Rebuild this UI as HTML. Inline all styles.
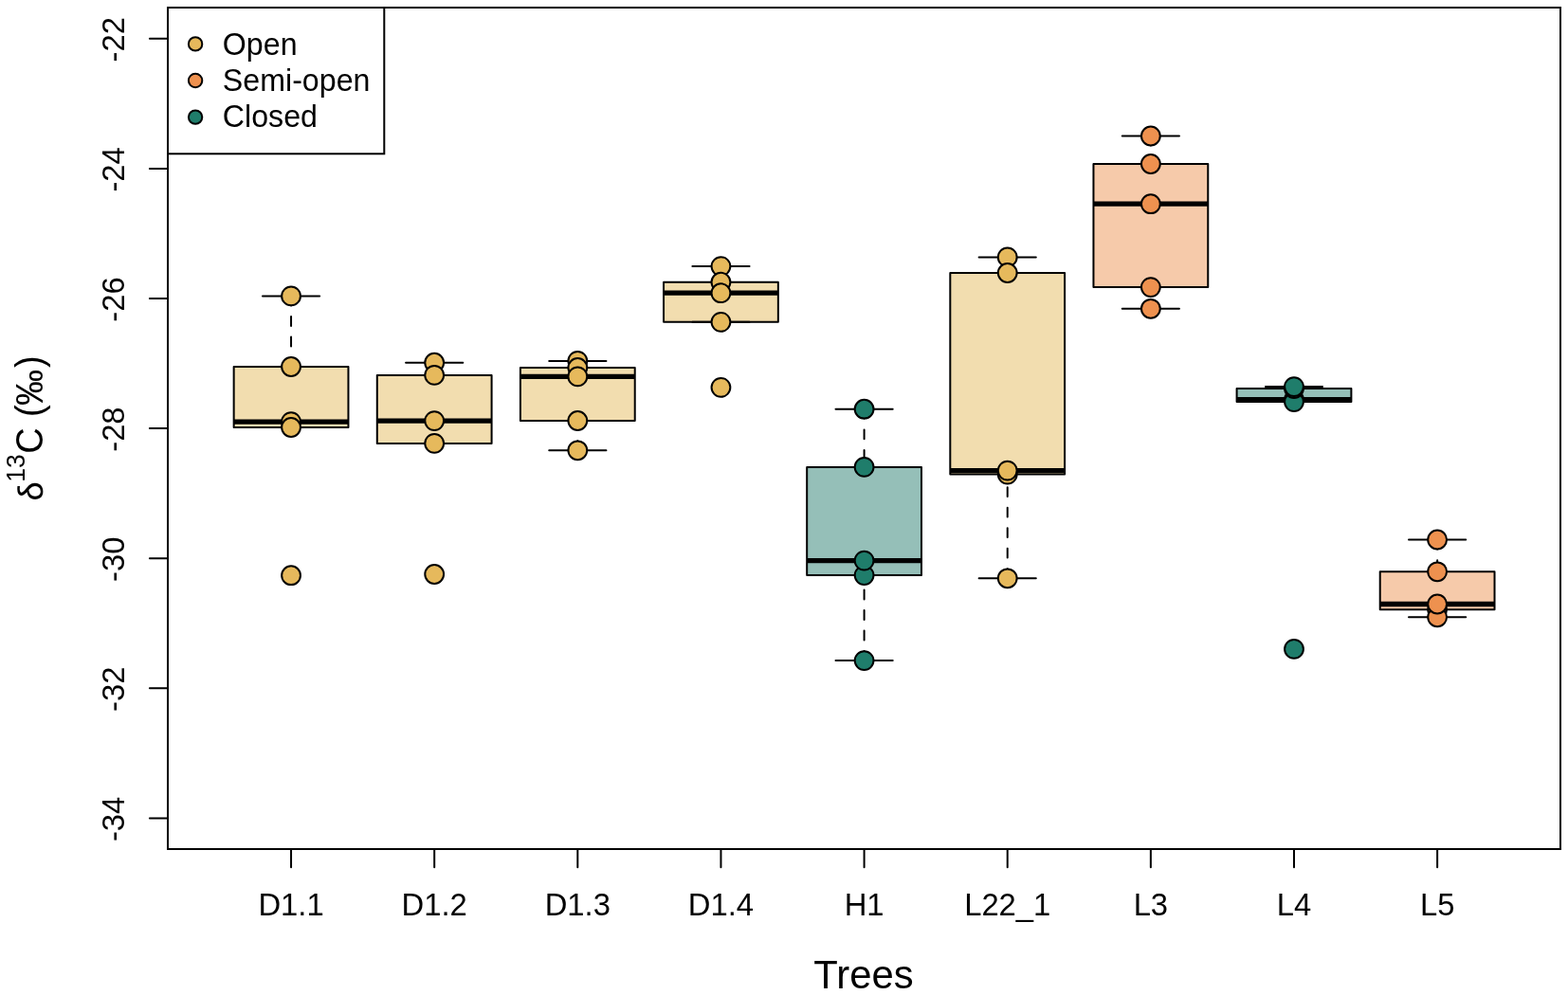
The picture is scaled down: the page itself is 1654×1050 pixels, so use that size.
<!DOCTYPE html>
<html><head><meta charset="utf-8"><title>d13C boxplot</title>
<style>
html,body{margin:0;padding:0;background:#fff;}
svg{display:block;}
text{font-family:"Liberation Sans",Arial,Helvetica,sans-serif;fill:#000;}
.ax{font-size:32.8px;}
.lg{font-size:32.2px;}
.tt{font-size:41.8px;}
.yl{font-size:38px;}
.sup{font-size:26.4px;}
.dl{font-family:"WenQuanYi Zen Hei","Liberation Sans",sans-serif;font-size:34.5px;}
</style></head>
<body>
<svg width="1654" height="1050" viewBox="0 0 1654 1050">
<rect width="1654" height="1050" fill="#fff"/>
<rect x="246.65" y="387" width="120.8" height="64" fill="#F2DDAF"/>
<line x1="246.65" y1="445.1" x2="367.45" y2="445.1" stroke="#000" stroke-width="5.3"/>
<line x1="307.05" y1="312.6" x2="307.05" y2="387" stroke="#000" stroke-width="2.0" stroke-dasharray="9.8 11.7" stroke-linecap="round"/>
<line x1="276.95" y1="312.4" x2="337.15" y2="312.4" stroke="#000" stroke-width="2.0" stroke-linecap="round"/>
<line x1="276.95" y1="451" x2="337.15" y2="451" stroke="#000" stroke-width="2.0" stroke-linecap="round"/>
<rect x="246.65" y="387" width="120.8" height="64" fill="none" stroke="#000" stroke-width="2.0" stroke-linejoin="round"/>
<rect x="397.79" y="395.9" width="120.8" height="72" fill="#F2DDAF"/>
<line x1="397.79" y1="444.1" x2="518.59" y2="444.1" stroke="#000" stroke-width="5.3"/>
<line x1="458.19" y1="382.9" x2="458.19" y2="395.9" stroke="#000" stroke-width="2.0" stroke-dasharray="9.8 11.7" stroke-linecap="round"/>
<line x1="428.08" y1="382.7" x2="488.29" y2="382.7" stroke="#000" stroke-width="2.0" stroke-linecap="round"/>
<line x1="428.08" y1="467.9" x2="488.29" y2="467.9" stroke="#000" stroke-width="2.0" stroke-linecap="round"/>
<rect x="397.79" y="395.9" width="120.8" height="72" fill="none" stroke="#000" stroke-width="2.0" stroke-linejoin="round"/>
<rect x="548.92" y="388" width="120.8" height="56" fill="#F2DDAF"/>
<line x1="548.92" y1="397.4" x2="669.72" y2="397.4" stroke="#000" stroke-width="5.3"/>
<line x1="609.32" y1="381.1" x2="609.32" y2="388" stroke="#000" stroke-width="2.0" stroke-dasharray="9.8 11.7" stroke-linecap="round"/>
<line x1="609.32" y1="475.1" x2="609.32" y2="444" stroke="#000" stroke-width="2.0" stroke-dasharray="9.8 11.7" stroke-linecap="round"/>
<line x1="579.22" y1="380.9" x2="639.42" y2="380.9" stroke="#000" stroke-width="2.0" stroke-linecap="round"/>
<line x1="579.22" y1="475.3" x2="639.42" y2="475.3" stroke="#000" stroke-width="2.0" stroke-linecap="round"/>
<rect x="548.92" y="388" width="120.8" height="56" fill="none" stroke="#000" stroke-width="2.0" stroke-linejoin="round"/>
<rect x="700.05" y="297.7" width="120.8" height="42.15" fill="#F2DDAF"/>
<line x1="700.05" y1="309.2" x2="820.85" y2="309.2" stroke="#000" stroke-width="5.3"/>
<line x1="760.45" y1="281.3" x2="760.45" y2="297.7" stroke="#000" stroke-width="2.0" stroke-dasharray="9.8 11.7" stroke-linecap="round"/>
<line x1="730.35" y1="281.1" x2="790.55" y2="281.1" stroke="#000" stroke-width="2.0" stroke-linecap="round"/>
<line x1="730.35" y1="339.85" x2="790.55" y2="339.85" stroke="#000" stroke-width="2.0" stroke-linecap="round"/>
<rect x="700.05" y="297.7" width="120.8" height="42.15" fill="none" stroke="#000" stroke-width="2.0" stroke-linejoin="round"/>
<rect x="851.19" y="492.9" width="120.8" height="114.2" fill="#95BFB8"/>
<line x1="851.19" y1="591.6" x2="971.99" y2="591.6" stroke="#000" stroke-width="5.3"/>
<line x1="911.59" y1="431.9" x2="911.59" y2="492.9" stroke="#000" stroke-width="2.0" stroke-dasharray="9.8 11.7" stroke-linecap="round"/>
<line x1="911.59" y1="696.9" x2="911.59" y2="607.1" stroke="#000" stroke-width="2.0" stroke-dasharray="9.8 11.7" stroke-linecap="round"/>
<line x1="881.49" y1="431.7" x2="941.69" y2="431.7" stroke="#000" stroke-width="2.0" stroke-linecap="round"/>
<line x1="881.49" y1="697.1" x2="941.69" y2="697.1" stroke="#000" stroke-width="2.0" stroke-linecap="round"/>
<rect x="851.19" y="492.9" width="120.8" height="114.2" fill="none" stroke="#000" stroke-width="2.0" stroke-linejoin="round"/>
<rect x="1002.32" y="288" width="120.8" height="212.6" fill="#F2DDAF"/>
<line x1="1002.32" y1="496.6" x2="1123.12" y2="496.6" stroke="#000" stroke-width="5.3"/>
<line x1="1062.72" y1="271.6" x2="1062.72" y2="288" stroke="#000" stroke-width="2.0" stroke-dasharray="9.8 11.7" stroke-linecap="round"/>
<line x1="1062.72" y1="610.1" x2="1062.72" y2="500.6" stroke="#000" stroke-width="2.0" stroke-dasharray="9.8 11.7" stroke-linecap="round"/>
<line x1="1032.62" y1="271.4" x2="1092.82" y2="271.4" stroke="#000" stroke-width="2.0" stroke-linecap="round"/>
<line x1="1032.62" y1="610.3" x2="1092.82" y2="610.3" stroke="#000" stroke-width="2.0" stroke-linecap="round"/>
<rect x="1002.32" y="288" width="120.8" height="212.6" fill="none" stroke="#000" stroke-width="2.0" stroke-linejoin="round"/>
<rect x="1153.46" y="173" width="120.8" height="130.1" fill="#F6CAAA"/>
<line x1="1153.46" y1="215.2" x2="1274.26" y2="215.2" stroke="#000" stroke-width="5.3"/>
<line x1="1213.86" y1="143.7" x2="1213.86" y2="173" stroke="#000" stroke-width="2.0" stroke-dasharray="9.8 11.7" stroke-linecap="round"/>
<line x1="1213.86" y1="325.6" x2="1213.86" y2="303.1" stroke="#000" stroke-width="2.0" stroke-dasharray="9.8 11.7" stroke-linecap="round"/>
<line x1="1183.76" y1="143.5" x2="1243.96" y2="143.5" stroke="#000" stroke-width="2.0" stroke-linecap="round"/>
<line x1="1183.76" y1="325.8" x2="1243.96" y2="325.8" stroke="#000" stroke-width="2.0" stroke-linecap="round"/>
<rect x="1153.46" y="173" width="120.8" height="130.1" fill="none" stroke="#000" stroke-width="2.0" stroke-linejoin="round"/>
<rect x="1304.59" y="410" width="120.8" height="14.1" fill="#95BFB8"/>
<line x1="1304.59" y1="421.75" x2="1425.39" y2="421.75" stroke="#000" stroke-width="5.3"/>
<line x1="1364.99" y1="408.3" x2="1364.99" y2="410" stroke="#000" stroke-width="2.0" stroke-dasharray="9.8 11.7" stroke-linecap="round"/>
<line x1="1334.89" y1="408.1" x2="1395.09" y2="408.1" stroke="#000" stroke-width="2.0" stroke-linecap="round"/>
<line x1="1334.89" y1="424.1" x2="1395.09" y2="424.1" stroke="#000" stroke-width="2.0" stroke-linecap="round"/>
<rect x="1304.59" y="410" width="120.8" height="14.1" fill="none" stroke="#000" stroke-width="2.0" stroke-linejoin="round"/>
<rect x="1455.73" y="603.3" width="120.8" height="39.9" fill="#F6CAAA"/>
<line x1="1455.73" y1="637.5" x2="1576.53" y2="637.5" stroke="#000" stroke-width="5.3"/>
<line x1="1516.13" y1="569.7" x2="1516.13" y2="603.3" stroke="#000" stroke-width="2.0" stroke-dasharray="9.8 11.7" stroke-linecap="round"/>
<line x1="1516.13" y1="651.1" x2="1516.13" y2="643.2" stroke="#000" stroke-width="2.0" stroke-dasharray="9.8 11.7" stroke-linecap="round"/>
<line x1="1486.03" y1="569.5" x2="1546.23" y2="569.5" stroke="#000" stroke-width="2.0" stroke-linecap="round"/>
<line x1="1486.03" y1="651.3" x2="1546.23" y2="651.3" stroke="#000" stroke-width="2.0" stroke-linecap="round"/>
<rect x="1455.73" y="603.3" width="120.8" height="39.9" fill="none" stroke="#000" stroke-width="2.0" stroke-linejoin="round"/>
<circle cx="307.05" cy="607.2" r="9.9" fill="#E6B95C" stroke="#000" stroke-width="2.0"/>
<circle cx="307.05" cy="312.4" r="9.9" fill="#E6B95C" stroke="#000" stroke-width="2.0"/>
<circle cx="307.05" cy="387" r="9.9" fill="#E6B95C" stroke="#000" stroke-width="2.0"/>
<circle cx="307.05" cy="445.1" r="9.9" fill="#E6B95C" stroke="#000" stroke-width="2.0"/>
<circle cx="307.05" cy="451" r="9.9" fill="#E6B95C" stroke="#000" stroke-width="2.0"/>
<circle cx="458.19" cy="606" r="9.9" fill="#E6B95C" stroke="#000" stroke-width="2.0"/>
<circle cx="458.19" cy="382.7" r="9.9" fill="#E6B95C" stroke="#000" stroke-width="2.0"/>
<circle cx="458.19" cy="395.9" r="9.9" fill="#E6B95C" stroke="#000" stroke-width="2.0"/>
<circle cx="458.19" cy="444.1" r="9.9" fill="#E6B95C" stroke="#000" stroke-width="2.0"/>
<circle cx="458.19" cy="467.9" r="9.9" fill="#E6B95C" stroke="#000" stroke-width="2.0"/>
<circle cx="609.32" cy="475.3" r="9.9" fill="#E6B95C" stroke="#000" stroke-width="2.0"/>
<circle cx="609.32" cy="444" r="9.9" fill="#E6B95C" stroke="#000" stroke-width="2.0"/>
<circle cx="609.32" cy="380.9" r="9.9" fill="#E6B95C" stroke="#000" stroke-width="2.0"/>
<circle cx="609.32" cy="388" r="9.9" fill="#E6B95C" stroke="#000" stroke-width="2.0"/>
<circle cx="609.32" cy="397.4" r="9.9" fill="#E6B95C" stroke="#000" stroke-width="2.0"/>
<circle cx="760.45" cy="408.85" r="9.9" fill="#E6B95C" stroke="#000" stroke-width="2.0"/>
<circle cx="760.45" cy="339.85" r="9.9" fill="#E6B95C" stroke="#000" stroke-width="2.0"/>
<circle cx="760.45" cy="281.1" r="9.9" fill="#E6B95C" stroke="#000" stroke-width="2.0"/>
<circle cx="760.45" cy="297.7" r="9.9" fill="#E6B95C" stroke="#000" stroke-width="2.0"/>
<circle cx="760.45" cy="309.2" r="9.9" fill="#E6B95C" stroke="#000" stroke-width="2.0"/>
<circle cx="911.59" cy="431.7" r="9.9" fill="#1F7D6B" stroke="#000" stroke-width="2.0"/>
<circle cx="911.59" cy="492.9" r="9.9" fill="#1F7D6B" stroke="#000" stroke-width="2.0"/>
<circle cx="911.59" cy="697.1" r="9.9" fill="#1F7D6B" stroke="#000" stroke-width="2.0"/>
<circle cx="911.59" cy="607.1" r="9.9" fill="#1F7D6B" stroke="#000" stroke-width="2.0"/>
<circle cx="911.59" cy="591.6" r="9.9" fill="#1F7D6B" stroke="#000" stroke-width="2.0"/>
<circle cx="1062.72" cy="610.3" r="9.9" fill="#E6B95C" stroke="#000" stroke-width="2.0"/>
<circle cx="1062.72" cy="271.4" r="9.9" fill="#E6B95C" stroke="#000" stroke-width="2.0"/>
<circle cx="1062.72" cy="288" r="9.9" fill="#E6B95C" stroke="#000" stroke-width="2.0"/>
<circle cx="1062.72" cy="500.6" r="9.9" fill="#E6B95C" stroke="#000" stroke-width="2.0"/>
<circle cx="1062.72" cy="496.6" r="9.9" fill="#E6B95C" stroke="#000" stroke-width="2.0"/>
<circle cx="1213.86" cy="143.5" r="9.9" fill="#EE914F" stroke="#000" stroke-width="2.0"/>
<circle cx="1213.86" cy="173" r="9.9" fill="#EE914F" stroke="#000" stroke-width="2.0"/>
<circle cx="1213.86" cy="215.2" r="9.9" fill="#EE914F" stroke="#000" stroke-width="2.0"/>
<circle cx="1213.86" cy="303.1" r="9.9" fill="#EE914F" stroke="#000" stroke-width="2.0"/>
<circle cx="1213.86" cy="325.8" r="9.9" fill="#EE914F" stroke="#000" stroke-width="2.0"/>
<circle cx="1364.99" cy="684.9" r="9.9" fill="#1F7D6B" stroke="#000" stroke-width="2.0"/>
<circle cx="1364.99" cy="421.75" r="9.9" fill="#1F7D6B" stroke="#000" stroke-width="2.0"/>
<circle cx="1364.99" cy="424.1" r="9.9" fill="#1F7D6B" stroke="#000" stroke-width="2.0"/>
<circle cx="1364.99" cy="410" r="9.9" fill="#1F7D6B" stroke="#000" stroke-width="2.0"/>
<circle cx="1364.99" cy="408.1" r="9.9" fill="#1F7D6B" stroke="#000" stroke-width="2.0"/>
<circle cx="1516.13" cy="569.5" r="9.9" fill="#EE914F" stroke="#000" stroke-width="2.0"/>
<circle cx="1516.13" cy="603.3" r="9.9" fill="#EE914F" stroke="#000" stroke-width="2.0"/>
<circle cx="1516.13" cy="643.2" r="9.9" fill="#EE914F" stroke="#000" stroke-width="2.0"/>
<circle cx="1516.13" cy="651.3" r="9.9" fill="#EE914F" stroke="#000" stroke-width="2.0"/>
<circle cx="1516.13" cy="637.5" r="9.9" fill="#EE914F" stroke="#000" stroke-width="2.0"/>
<line x1="157.9" y1="40.8" x2="177" y2="40.8" stroke="#000" stroke-width="2.0" stroke-linecap="round"/>
<text transform="translate(131.2 41.8) rotate(-90) scale(1 1.02)" text-anchor="middle" class="ax">-22</text>
<line x1="157.9" y1="177.9" x2="177" y2="177.9" stroke="#000" stroke-width="2.0" stroke-linecap="round"/>
<text transform="translate(131.2 178.9) rotate(-90) scale(1 1.02)" text-anchor="middle" class="ax">-24</text>
<line x1="157.9" y1="315" x2="177" y2="315" stroke="#000" stroke-width="2.0" stroke-linecap="round"/>
<text transform="translate(131.2 316) rotate(-90) scale(1 1.02)" text-anchor="middle" class="ax">-26</text>
<line x1="157.9" y1="452.1" x2="177" y2="452.1" stroke="#000" stroke-width="2.0" stroke-linecap="round"/>
<text transform="translate(131.2 453.1) rotate(-90) scale(1 1.02)" text-anchor="middle" class="ax">-28</text>
<line x1="157.9" y1="589.2" x2="177" y2="589.2" stroke="#000" stroke-width="2.0" stroke-linecap="round"/>
<text transform="translate(131.2 590.2) rotate(-90) scale(1 1.02)" text-anchor="middle" class="ax">-30</text>
<line x1="157.9" y1="726.3" x2="177" y2="726.3" stroke="#000" stroke-width="2.0" stroke-linecap="round"/>
<text transform="translate(131.2 727.3) rotate(-90) scale(1 1.02)" text-anchor="middle" class="ax">-32</text>
<line x1="157.9" y1="863.4" x2="177" y2="863.4" stroke="#000" stroke-width="2.0" stroke-linecap="round"/>
<text transform="translate(131.2 864.4) rotate(-90) scale(1 1.02)" text-anchor="middle" class="ax">-34</text>
<line x1="307.05" y1="896" x2="307.05" y2="915.2" stroke="#000" stroke-width="2.0" stroke-linecap="round"/>
<text transform="translate(307.05 965.7) scale(1 1.02)" text-anchor="middle" class="ax">D1.1</text>
<line x1="458.19" y1="896" x2="458.19" y2="915.2" stroke="#000" stroke-width="2.0" stroke-linecap="round"/>
<text transform="translate(458.19 965.7) scale(1 1.02)" text-anchor="middle" class="ax">D1.2</text>
<line x1="609.32" y1="896" x2="609.32" y2="915.2" stroke="#000" stroke-width="2.0" stroke-linecap="round"/>
<text transform="translate(609.32 965.7) scale(1 1.02)" text-anchor="middle" class="ax">D1.3</text>
<line x1="760.45" y1="896" x2="760.45" y2="915.2" stroke="#000" stroke-width="2.0" stroke-linecap="round"/>
<text transform="translate(760.45 965.7) scale(1 1.02)" text-anchor="middle" class="ax">D1.4</text>
<line x1="911.59" y1="896" x2="911.59" y2="915.2" stroke="#000" stroke-width="2.0" stroke-linecap="round"/>
<text transform="translate(911.59 965.7) scale(1 1.02)" text-anchor="middle" class="ax">H1</text>
<line x1="1062.72" y1="896" x2="1062.72" y2="915.2" stroke="#000" stroke-width="2.0" stroke-linecap="round"/>
<text transform="translate(1062.72 965.7) scale(1 1.02)" text-anchor="middle" class="ax">L22_1</text>
<line x1="1213.86" y1="896" x2="1213.86" y2="915.2" stroke="#000" stroke-width="2.0" stroke-linecap="round"/>
<text transform="translate(1213.86 965.7) scale(1 1.02)" text-anchor="middle" class="ax">L3</text>
<line x1="1364.99" y1="896" x2="1364.99" y2="915.2" stroke="#000" stroke-width="2.0" stroke-linecap="round"/>
<text transform="translate(1364.99 965.7) scale(1 1.02)" text-anchor="middle" class="ax">L4</text>
<line x1="1516.13" y1="896" x2="1516.13" y2="915.2" stroke="#000" stroke-width="2.0" stroke-linecap="round"/>
<text transform="translate(1516.13 965.7) scale(1 1.02)" text-anchor="middle" class="ax">L5</text>
<rect x="177" y="8" width="1469" height="888" fill="none" stroke="#000" stroke-width="2.0"/>
<rect x="177" y="8" width="228.3" height="154.3" fill="#fff" stroke="#000" stroke-width="2.0"/>
<circle cx="206.1" cy="46.4" r="7.2" fill="#E6B95C" stroke="#000" stroke-width="2.0"/>
<text transform="translate(234.8 57.9) scale(1 1.025)" class="lg">Open</text>
<circle cx="206.1" cy="85.0" r="7.2" fill="#EE914F" stroke="#000" stroke-width="2.0"/>
<text transform="translate(234.8 96.4) scale(1 1.025)" class="lg">Semi-open</text>
<circle cx="206.1" cy="123.6" r="7.2" fill="#1F7D6B" stroke="#000" stroke-width="2.0"/>
<text transform="translate(234.8 134.3) scale(1 1.025)" class="lg">Closed</text>
<text transform="translate(911 1042.9) scale(1 1.02)" text-anchor="middle" class="tt">Trees</text>
<text transform="translate(44.9 0) rotate(-90) scale(1 1.06)" class="yl"><tspan x="-528.8" y="0" class="dl">δ</tspan><tspan x="-508.8" y="-17.92" class="sup">13</tspan><tspan x="-478.8" y="0">C</tspan><tspan x="-440.1" y="0">(</tspan><tspan x="-428" y="0">‰</tspan><tspan x="-388" y="0">)</tspan></text>
</svg>
</body></html>
